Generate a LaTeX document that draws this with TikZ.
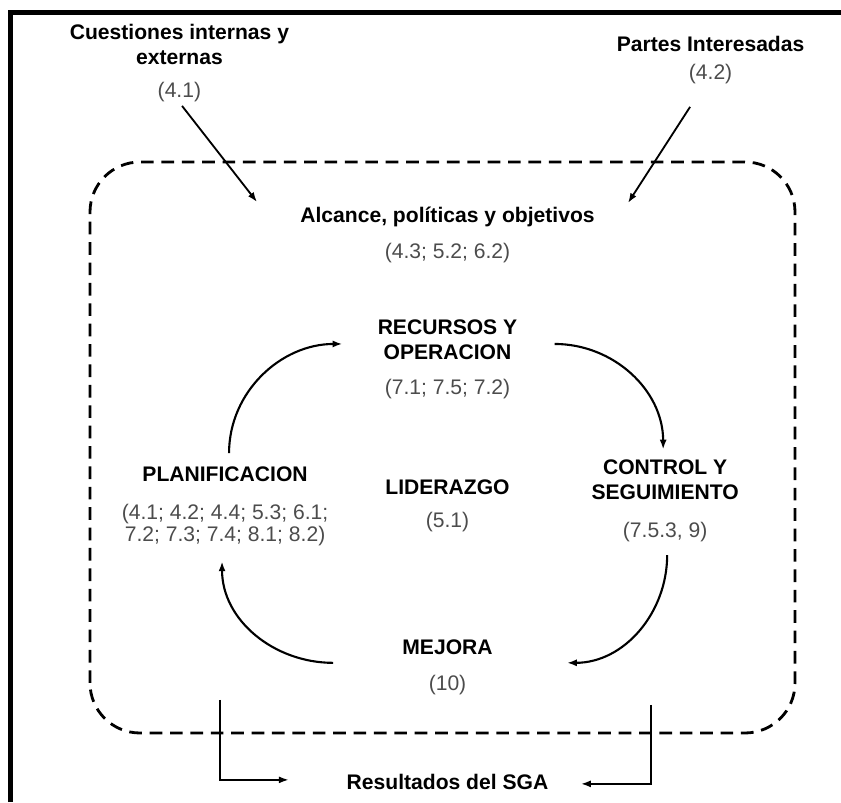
\documentclass[tikz,border=0pt]{standalone}
\usepackage{fontspec}
\setmainfont{Liberation Sans}
\usepackage{tikz}
\usetikzlibrary{arrows.meta,positioning}
\definecolor{clausegray}{gray}{0.3}
\newcommand{\clause}[1]{{\mdseries\color{clausegray}#1}}

\begin{document}
\begin{tikzpicture}[x=0.025cm,y=0.025cm,on grid,
    block/.style={align=center,inner sep=0pt,font=\fontsize{15}{18}\selectfont\bfseries},
    flow/.style={-{Latex[length=7pt,width=5pt]},line width=1.5pt},
    feed/.style={-{Latex[length=7pt,width=5pt]},line width=1.3pt}]
    \useasboundingbox (0,0) rectangle (841,802);
    \draw[line width=3pt] (10.5,0) -- (10.5,789.5) -- (841,789.5);
    \draw[line width=2pt,dash pattern=on 9pt off 5.5pt,rounded corners=1.25cm]
      (90,69) rectangle (795,640);
    \node[block] (lid) at (447.5,296)     {LIDERAZGO\\[5.5pt]\clause{(5.1)}};
    \node[block] (plan) [left=5.56cm of lid]
      {PLANIFICACION\\[9pt]\clause{(4.1; 4.2; 4.4; 5.3; 6.1;}\\[-2.4pt]\clause{7.2; 7.3; 7.4; 8.1; 8.2)}};
    \node[block] (ctrl) [above right=0.125cm and 5.44cm of lid]
      {CONTROL Y\\SEGUIMIENTO\\[9pt]\clause{(7.5.3, 9)}};
    \node[block] (rec)  [above=3.66cm of lid] {RECURSOS Y\\OPERACION\\[7pt]\clause{(7.1; 7.5; 7.2)}};
    \node[block] (mej)  [below=4.04cm of lid] {MEJORA\\[7.6pt]\clause{(10)}};
    \node[block] (alc)  [above=3.105cm of rec]
      {Alcance, políticas y objetivos\\[7.6pt]\clause{(4.3; 5.2; 6.2)}};
    \node[block] (res)  [below=2.865cm of mej] {Resultados del SGA};
    \node[block] (cue)  [above left=4.3cm and 6.7cm of alc]
      {Cuestiones internas y\\externas\\[5.5pt]\clause{(4.1)}};
    \node[block] (par)  [above right=4.375cm and 6.575cm of alc]
      {Partes Interesadas\\[2pt]\clause{(4.2)}};
    % inputs
    \coordinate (alc_l) at (257,600);
    \coordinate (alc_r) at (628,599);
    \draw[feed,shorten <=3pt] (cue.south) -- (alc_l);
    \draw[feed,shorten <=19pt] ([xshift=-0.15cm]par.south) -- (alc_r);
    % cycle
    \draw[flow] ([xshift=0.1cm,yshift=0.325cm]plan.north) to[out=90,in=180]
      ([xshift=-0.875cm,yshift=0.39cm]rec.west);
    \draw[flow] ([xshift=0.925cm,yshift=0.39cm]rec.east) to[out=0,in=90]
      ([xshift=-0.05cm,yshift=0.25cm]ctrl.north);
    \draw[flow] ([xshift=0.05cm,yshift=-0.315cm]ctrl.south) to[out=-90,in=0]
      ([xshift=1.85cm,yshift=0.12cm]mej.east);
    \draw[flow] ([xshift=-1.725cm,yshift=0.12cm]mej.west) to[out=180,in=-90]
      ([xshift=-0.075cm,yshift=-0.39cm]plan.south);
    % outputs
    \coordinate (out_l) at (220,102);
    \coordinate (out_r) at (651,97);
    \draw[feed,shorten >=41pt] (out_l) |- ([yshift=0.06cm]res.west);
    \draw[feed,shorten >=23pt] (out_r) |- ([yshift=-0.04cm]res.east);
\end{tikzpicture}
\end{document}
